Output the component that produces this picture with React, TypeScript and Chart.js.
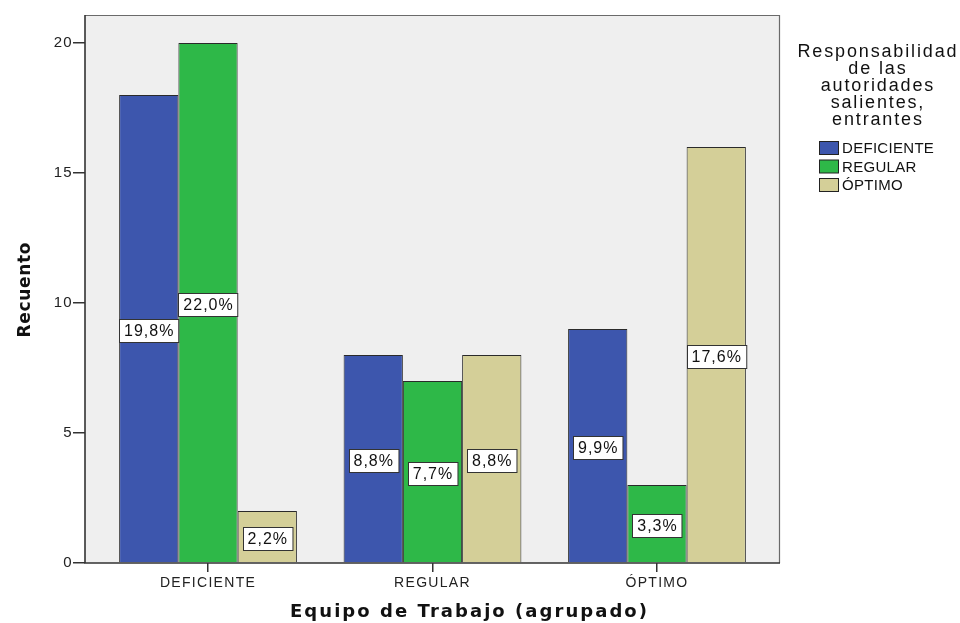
import React, { useEffect, useRef } from "react";
import { Chart, registerables } from "chart.js";

Chart.register(...registerables);

const categories = ["DEFICIENTE", "REGULAR", "ÓPTIMO"];
const seriesNames = ["DEFICIENTE", "REGULAR", "ÓPTIMO"];
const deficienteCounts = [18, 8, 9];
const regularCounts = [20, 7, 3];
const optimoCounts = [2, 8, 16];
const deficientePct = ["19,8%", "8,8%", "9,9%"];
const regularPct = ["22,0%", "7,7%", "3,3%"];
const optimoPct = ["2,2%", "8,8%", "17,6%"];
const yTicks = [0, 5, 10, 15, 20];
const legendTitleLines = ["Responsabilidad", "de las", "autoridades", "salientes,", "entrantes"];
const xTitle = "Equipo de Trabajo (agrupado)";
const yTitle = "Recuento";

const seriesColors = ["#3d56ad", "#2eb848", "#d4cf98"];
const FONT = "'Liberation Sans', Arial, sans-serif";
const BOLD_FONT = "'DejaVu Sans', Verdana, sans-serif";

function fitText(ctx: CanvasRenderingContext2D, text: string, target: number) {
  (ctx as any).letterSpacing = "0px";
  const w = ctx.measureText(text).width;
  const sp = (target - w) / Math.max(1, text.length - 1);
  (ctx as any).letterSpacing = sp + "px";
  return sp;
}

const decorPlugin = {
  id: "decor",
  beforeDraw(chart: any) {
    const { ctx, chartArea: a } = chart;
    (ctx as any).letterSpacing = "1.3px";
    ctx.save();
    ctx.fillStyle = "#efefef";
    ctx.fillRect(a.left, a.top, a.right - a.left, a.bottom - a.top);
    ctx.restore();
  },
  afterDatasetsDraw(chart: any) {
    const { ctx, chartArea: a } = chart;
    ctx.save();
    ctx.strokeStyle = "#6a6a6a";
    ctx.lineWidth = 1.2;
    ctx.beginPath();
    ctx.moveTo(a.left, a.top + 0.5);
    ctx.lineTo(a.right - 0.5, a.top + 0.5);
    ctx.lineTo(a.right - 0.5, a.bottom);
    ctx.stroke();
    ctx.strokeStyle = "#333";
    ctx.lineWidth = 1.6;
    ctx.beginPath();
    ctx.moveTo(a.left, a.top);
    ctx.lineTo(a.left, a.bottom);
    ctx.lineTo(a.right, a.bottom);
    ctx.stroke();

    // percentage labels
    const pcts = [deficientePct, regularPct, optimoPct];
    ctx.font = "16px " + FONT;
    (ctx as any).letterSpacing = "1px";
    chart.data.datasets.forEach((_: any, i: number) => {
      const meta = chart.getDatasetMeta(i);
      meta.data.forEach((bar: any, j: number) => {
        const p = bar.getProps(["x", "y", "base", "width"], true);
        const cy = (p.y + p.base) / 2 + 2;
        const text = pcts[i][j];
        const tw = ctx.measureText(text).width - 1;
        const bw = Math.min(tw + 10, p.width);
        const bh = 23;
        const bx = Math.round(p.x - bw / 2) + 0.5;
        const by = Math.round(cy - bh / 2) + 0.5;
        ctx.fillStyle = "#ffffff";
        ctx.fillRect(bx, by, bw, bh);
        ctx.strokeStyle = "#333";
        ctx.lineWidth = 1;
        ctx.strokeRect(bx, by, bw, bh);
        ctx.fillStyle = "#111";
        ctx.textAlign = "left";
        ctx.textBaseline = "middle";
        ctx.fillText(text, p.x - tw / 2, cy + 1);
      });
    });
    ctx.restore();
  },
  afterDraw(chart: any) {
    const { ctx } = chart;
    ctx.save();
    // legend title
    ctx.fillStyle = "#111";
    ctx.font = "18px " + FONT;
    ctx.textBaseline = "middle";
    ctx.textAlign = "left";
    const sp = fitText(ctx, legendTitleLines[0], 159);
    legendTitleLines.forEach((line, i) => {
      const w = ctx.measureText(line).width - sp;
      ctx.fillText(line, 877 - w / 2, 52 + i * 17);
    });
    // legend items
    ctx.font = "15px " + FONT;
    (ctx as any).letterSpacing = "0.3px";
    chart.data.datasets.forEach((ds: any, i: number) => {
      const cy = 148 + i * 18.5;
      ctx.fillStyle = ds.backgroundColor;
      ctx.fillRect(819.5, cy - 6.5, 19, 13);
      ctx.strokeStyle = "#222";
      ctx.lineWidth = 1;
      ctx.strokeRect(819.5, cy - 6.5, 19, 13);
      ctx.fillStyle = "#111";
      ctx.fillText(ds.label, 842, cy + 1);
    });
    // x title
    ctx.font = "bold 18px " + BOLD_FONT;
    ctx.textBaseline = "alphabetic";
    fitText(ctx, xTitle, 357);
    ctx.fillText(xTitle, 290, 617);
    // y title
    ctx.font = "bold 17px " + BOLD_FONT;
    fitText(ctx, yTitle, 95);
    ctx.translate(29.5, 290);
    ctx.rotate(-Math.PI / 2);
    ctx.fillText(yTitle, -47.5, 0);
    ctx.restore();
  },
};

export default function App() {
  const ref = useRef<HTMLCanvasElement | null>(null);
  useEffect(() => {
    if (!ref.current) return;
    const counts = [deficienteCounts, regularCounts, optimoCounts];
    const chart = new Chart(ref.current, {
      type: "bar",
      data: {
        datasets: seriesNames.map((name, i) => ({
          label: name,
          data: categories.map((_, j) => ({ x: j, y: counts[i][j] })),
          backgroundColor: seriesColors[i],
          borderColor: "#2a2a2a",
          borderWidth: 1,
          barPercentage: 1,
          categoryPercentage: 0.792,
        })),
      },
      options: {
        responsive: false,
        animation: false,
        layout: { padding: { top: 15, right: 180, left: 0, bottom: 0 } },
        plugins: { legend: { display: false }, tooltip: { enabled: false }, title: { display: false } },
        scales: {
          x: {
            type: "linear",
            offset: false,
            min: -0.548,
            max: 2.548,
            afterBuildTicks: (s: any) => {
              s.ticks = categories.map((_, i) => ({ value: i }));
            },
            afterFit: (s: any) => {
              s.height = 60;
            },
            ticks: {
              callback: (v: any) => categories[Math.round(Number(v))] ?? "",
              font: { size: 14, family: FONT },
              color: "#222",
              padding: 3,
              maxRotation: 0,
              autoSkip: false,
            },
            grid: { offset: false, drawOnChartArea: false, drawTicks: true, tickLength: 9, color: "#333", lineWidth: 1.5 },
            border: { display: false },
          },
          y: {
            type: "linear",
            min: 0,
            max: 21.077,
            afterBuildTicks: (s: any) => {
              s.ticks = yTicks.map((v) => ({ value: v }));
            },
            afterFit: (s: any) => {
              s.width = 85;
            },
            ticks: {
              callback: (v: any) => String(v),
              font: { size: 15, family: FONT },
              color: "#222",
              padding: 0,
            },
            grid: { drawOnChartArea: false, drawTicks: true, tickLength: 12, color: "#333", lineWidth: 1.5 },
            border: { display: false },
          },
        },
      },
      plugins: [decorPlugin],
    } as any);
    return () => chart.destroy();
  }, []);
  return (
    <div style={{ position: "absolute", left: 0, top: 0, width: 960, height: 623, background: "#fff" }}>
      <canvas ref={ref} width={960} height={623} style={{ display: "block" }} />
    </div>
  );
}
